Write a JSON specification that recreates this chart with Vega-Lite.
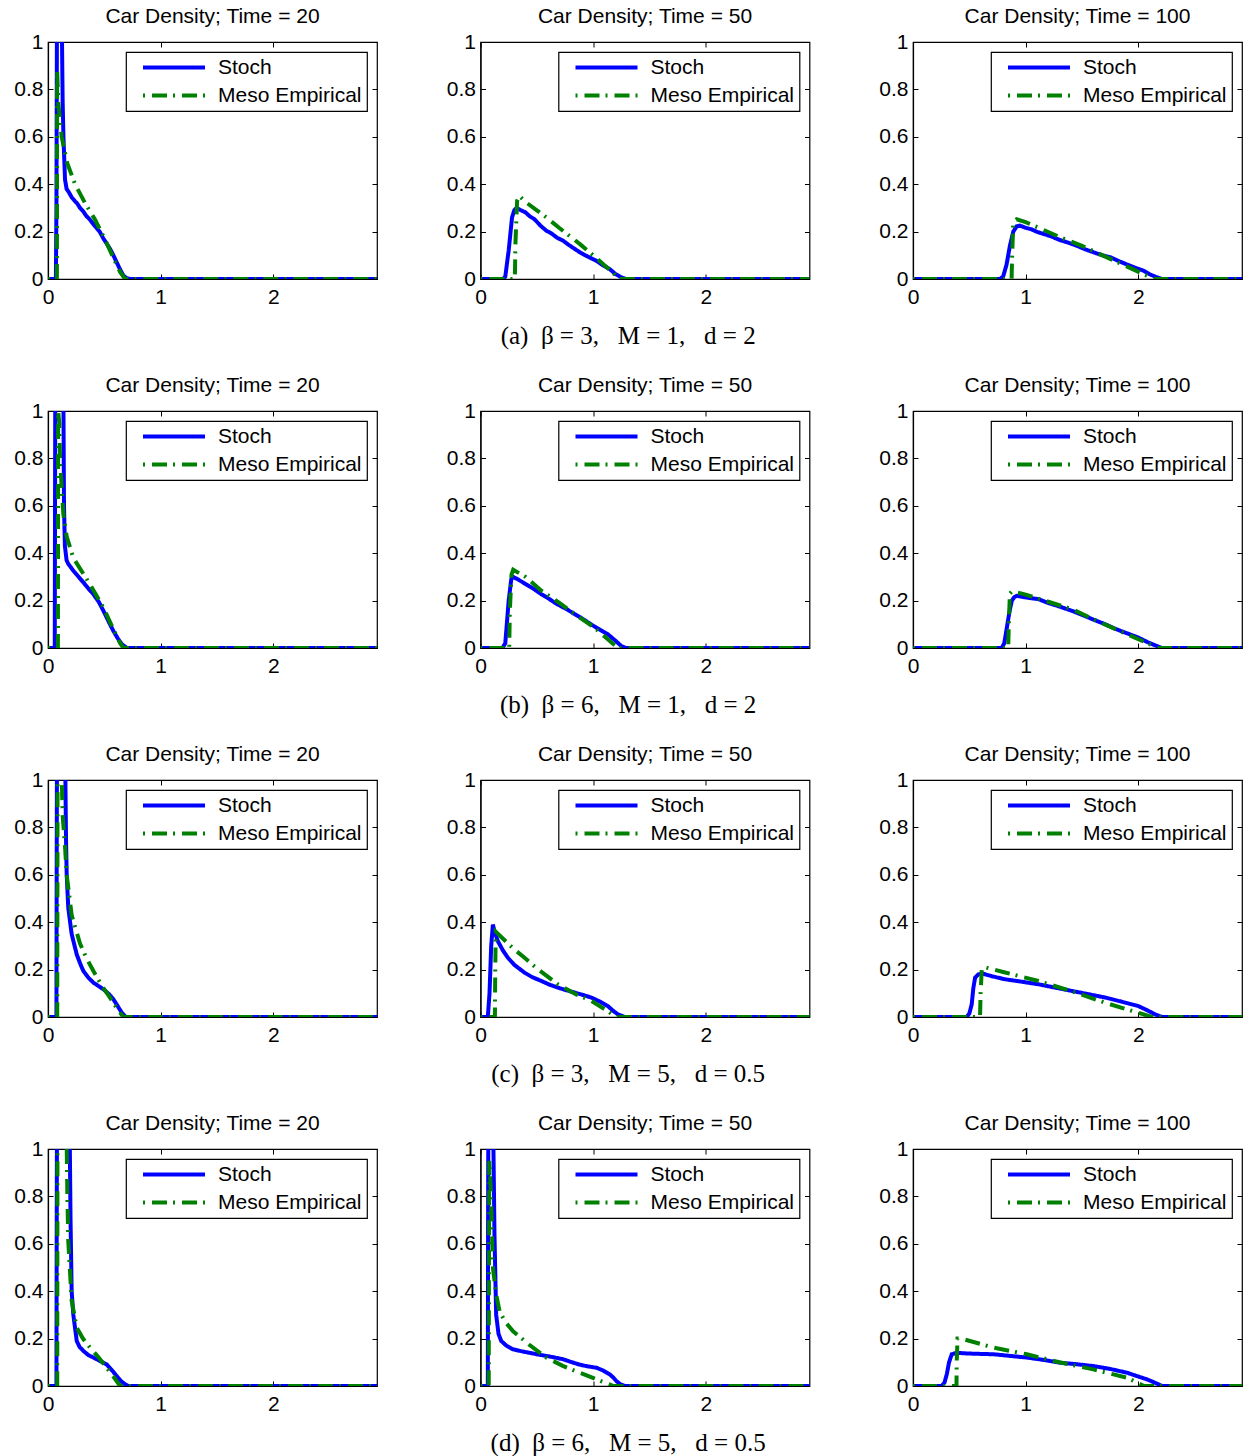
{
  "$schema": "https://vega.github.io/schema/vega-lite/v6.json",
  "padding": {"left": 13, "top": 5, "right": 2, "bottom": 2},
  "background": "white",
  "spacing": 25,
  "resolve": {"legend": {"color": "independent", "strokeDash": "independent"}},
  "config": {
    "font": "Liberation Sans",
    "view": {"stroke": "black", "strokeWidth": 1.2},
    "axis": {"grid": false, "domainColor": "black", "domainWidth": 1.2, "tickColor": "black", "tickSize": -5, "tickWidth": 1, "labelColor": "black", "labelFontSize": 21, "labelFont": "Liberation Sans", "labelFlush": false, "labelOverlap": false},
    "axisX": {"labelPadding": 12},
    "axisY": {"labelPadding": 10},
    "title": {"fontSize": 21, "fontWeight": "normal", "font": "Liberation Sans", "color": "black", "offset": 4, "frame": "group"},
    "legend": {"orient": "top-right", "offset": 10, "padding": 5, "strokeColor": "black", "strokeWidth": 1.2, "fillColor": "white", "labelFontSize": 21, "labelFont": "Liberation Sans", "labelColor": "black", "symbolType": "stroke", "symbolSize": 3844, "symbolStrokeWidth": 4, "symbolOffset": 10, "labelOffset": 11, "rowPadding": 6, "clipHeight": 21, "labelLimit": 400}
  },
  "datasets": {
    "a20": [
      {"s":"Stoch","x":0,"y":0},{"s":"Stoch","x":0.07,"y":0},{"s":"Stoch","x":0.075,"y":0.3},{"s":"Stoch","x":0.08,"y":1.2},{"s":"Stoch","x":0.12,"y":1.2},{"s":"Stoch","x":0.13,"y":0.75},{"s":"Stoch","x":0.137,"y":0.6},{"s":"Stoch","x":0.151,"y":0.42},{"s":"Stoch","x":0.165,"y":0.38},{"s":"Stoch","x":0.18,"y":0.37},{"s":"Stoch","x":0.21,"y":0.345},{"s":"Stoch","x":0.24,"y":0.328},{"s":"Stoch","x":0.26,"y":0.318},{"s":"Stoch","x":0.284,"y":0.3},{"s":"Stoch","x":0.31,"y":0.287},{"s":"Stoch","x":0.34,"y":0.266},{"s":"Stoch","x":0.373,"y":0.25},{"s":"Stoch","x":0.4,"y":0.233},{"s":"Stoch","x":0.43,"y":0.216},{"s":"Stoch","x":0.462,"y":0.197},{"s":"Stoch","x":0.49,"y":0.172},{"s":"Stoch","x":0.52,"y":0.15},{"s":"Stoch","x":0.551,"y":0.127},{"s":"Stoch","x":0.58,"y":0.1},{"s":"Stoch","x":0.61,"y":0.07},{"s":"Stoch","x":0.64,"y":0.04},{"s":"Stoch","x":0.67,"y":0.014},{"s":"Stoch","x":0.7,"y":0.003},{"s":"Stoch","x":0.73,"y":0},{"s":"Stoch","x":2.92,"y":0},
      {"s":"Meso Empirical","x":0,"y":0},{"s":"Meso Empirical","x":0.079,"y":0},{"s":"Meso Empirical","x":0.081,"y":0.88},{"s":"Meso Empirical","x":0.092,"y":0.74},{"s":"Meso Empirical","x":0.121,"y":0.6},{"s":"Meso Empirical","x":0.17,"y":0.49},{"s":"Meso Empirical","x":0.24,"y":0.4},{"s":"Meso Empirical","x":0.329,"y":0.32},{"s":"Meso Empirical","x":0.418,"y":0.25},{"s":"Meso Empirical","x":0.492,"y":0.18},{"s":"Meso Empirical","x":0.58,"y":0.09},{"s":"Meso Empirical","x":0.64,"y":0.03},{"s":"Meso Empirical","x":0.684,"y":0},{"s":"Meso Empirical","x":2.92,"y":0}
    ],
    "a50": [
      {"s":"Stoch","x":0,"y":0},{"s":"Stoch","x":0.2,"y":0},{"s":"Stoch","x":0.22,"y":0.01},{"s":"Stoch","x":0.25,"y":0.12},{"s":"Stoch","x":0.28,"y":0.26},{"s":"Stoch","x":0.3,"y":0.29},{"s":"Stoch","x":0.32,"y":0.3},{"s":"Stoch","x":0.36,"y":0.29},{"s":"Stoch","x":0.4,"y":0.281},{"s":"Stoch","x":0.436,"y":0.265},{"s":"Stoch","x":0.48,"y":0.252},{"s":"Stoch","x":0.53,"y":0.226},{"s":"Stoch","x":0.584,"y":0.204},{"s":"Stoch","x":0.63,"y":0.192},{"s":"Stoch","x":0.68,"y":0.174},{"s":"Stoch","x":0.732,"y":0.162},{"s":"Stoch","x":0.78,"y":0.145},{"s":"Stoch","x":0.83,"y":0.129},{"s":"Stoch","x":0.88,"y":0.113},{"s":"Stoch","x":0.93,"y":0.1},{"s":"Stoch","x":0.98,"y":0.088},{"s":"Stoch","x":1.028,"y":0.077},{"s":"Stoch","x":1.08,"y":0.06},{"s":"Stoch","x":1.147,"y":0.042},{"s":"Stoch","x":1.2,"y":0.02},{"s":"Stoch","x":1.25,"y":0.007},{"s":"Stoch","x":1.29,"y":0},{"s":"Stoch","x":2.92,"y":0},
      {"s":"Meso Empirical","x":0,"y":0},{"s":"Meso Empirical","x":0.305,"y":0},{"s":"Meso Empirical","x":0.31,"y":0.15},{"s":"Meso Empirical","x":0.325,"y":0.33},{"s":"Meso Empirical","x":0.345,"y":0.35},{"s":"Meso Empirical","x":0.4,"y":0.325},{"s":"Meso Empirical","x":0.5,"y":0.29},{"s":"Meso Empirical","x":0.584,"y":0.26},{"s":"Meso Empirical","x":0.7,"y":0.215},{"s":"Meso Empirical","x":0.8,"y":0.178},{"s":"Meso Empirical","x":0.88,"y":0.148},{"s":"Meso Empirical","x":1.0,"y":0.1},{"s":"Meso Empirical","x":1.1,"y":0.058},{"s":"Meso Empirical","x":1.176,"y":0.028},{"s":"Meso Empirical","x":1.22,"y":0},{"s":"Meso Empirical","x":2.92,"y":0}
    ],
    "a100": [
      {"s":"Stoch","x":0,"y":0},{"s":"Stoch","x":0.77,"y":0},{"s":"Stoch","x":0.8,"y":0.01},{"s":"Stoch","x":0.83,"y":0.06},{"s":"Stoch","x":0.86,"y":0.14},{"s":"Stoch","x":0.89,"y":0.2},{"s":"Stoch","x":0.92,"y":0.222},{"s":"Stoch","x":0.95,"y":0.225},{"s":"Stoch","x":1.0,"y":0.216},{"s":"Stoch","x":1.05,"y":0.21},{"s":"Stoch","x":1.1,"y":0.199},{"s":"Stoch","x":1.158,"y":0.19},{"s":"Stoch","x":1.22,"y":0.181},{"s":"Stoch","x":1.3,"y":0.165},{"s":"Stoch","x":1.38,"y":0.153},{"s":"Stoch","x":1.455,"y":0.14},{"s":"Stoch","x":1.53,"y":0.125},{"s":"Stoch","x":1.6,"y":0.113},{"s":"Stoch","x":1.68,"y":0.1},{"s":"Stoch","x":1.75,"y":0.092},{"s":"Stoch","x":1.83,"y":0.075},{"s":"Stoch","x":1.9,"y":0.061},{"s":"Stoch","x":1.98,"y":0.046},{"s":"Stoch","x":2.047,"y":0.035},{"s":"Stoch","x":2.1,"y":0.02},{"s":"Stoch","x":2.166,"y":0.007},{"s":"Stoch","x":2.21,"y":0},{"s":"Stoch","x":2.92,"y":0},
      {"s":"Meso Empirical","x":0,"y":0},{"s":"Meso Empirical","x":0.875,"y":0},{"s":"Meso Empirical","x":0.88,"y":0.1},{"s":"Meso Empirical","x":0.89,"y":0.24},{"s":"Meso Empirical","x":0.92,"y":0.252},{"s":"Meso Empirical","x":1.0,"y":0.24},{"s":"Meso Empirical","x":1.307,"y":0.176},{"s":"Meso Empirical","x":1.5,"y":0.14},{"s":"Meso Empirical","x":1.75,"y":0.085},{"s":"Meso Empirical","x":2.077,"y":0.014},{"s":"Meso Empirical","x":2.14,"y":0},{"s":"Meso Empirical","x":2.92,"y":0}
    ],
    "b20": [
      {"s":"Stoch","x":0,"y":0},{"s":"Stoch","x":0.06,"y":0},{"s":"Stoch","x":0.062,"y":0.5},{"s":"Stoch","x":0.065,"y":1.2},{"s":"Stoch","x":0.135,"y":1.2},{"s":"Stoch","x":0.142,"y":0.6},{"s":"Stoch","x":0.15,"y":0.43},{"s":"Stoch","x":0.165,"y":0.37},{"s":"Stoch","x":0.18,"y":0.355},{"s":"Stoch","x":0.225,"y":0.326},{"s":"Stoch","x":0.27,"y":0.301},{"s":"Stoch","x":0.314,"y":0.277},{"s":"Stoch","x":0.36,"y":0.25},{"s":"Stoch","x":0.403,"y":0.227},{"s":"Stoch","x":0.45,"y":0.195},{"s":"Stoch","x":0.492,"y":0.157},{"s":"Stoch","x":0.54,"y":0.11},{"s":"Stoch","x":0.58,"y":0.072},{"s":"Stoch","x":0.62,"y":0.04},{"s":"Stoch","x":0.655,"y":0.016},{"s":"Stoch","x":0.7,"y":0},{"s":"Stoch","x":2.92,"y":0},
      {"s":"Meso Empirical","x":0,"y":0},{"s":"Meso Empirical","x":0.088,"y":0},{"s":"Meso Empirical","x":0.09,"y":1.0},{"s":"Meso Empirical","x":0.1,"y":0.95},{"s":"Meso Empirical","x":0.107,"y":0.79},{"s":"Meso Empirical","x":0.136,"y":0.566},{"s":"Meso Empirical","x":0.166,"y":0.47},{"s":"Meso Empirical","x":0.225,"y":0.38},{"s":"Meso Empirical","x":0.344,"y":0.29},{"s":"Meso Empirical","x":0.42,"y":0.23},{"s":"Meso Empirical","x":0.492,"y":0.17},{"s":"Meso Empirical","x":0.57,"y":0.09},{"s":"Meso Empirical","x":0.64,"y":0.02},{"s":"Meso Empirical","x":0.67,"y":0},{"s":"Meso Empirical","x":2.92,"y":0}
    ],
    "b50": [
      {"s":"Stoch","x":0,"y":0},{"s":"Stoch","x":0.195,"y":0},{"s":"Stoch","x":0.22,"y":0.02},{"s":"Stoch","x":0.25,"y":0.2},{"s":"Stoch","x":0.273,"y":0.29},{"s":"Stoch","x":0.29,"y":0.3},{"s":"Stoch","x":0.33,"y":0.29},{"s":"Stoch","x":0.4,"y":0.27},{"s":"Stoch","x":0.47,"y":0.25},{"s":"Stoch","x":0.54,"y":0.227},{"s":"Stoch","x":0.6,"y":0.21},{"s":"Stoch","x":0.68,"y":0.185},{"s":"Stoch","x":0.76,"y":0.165},{"s":"Stoch","x":0.836,"y":0.143},{"s":"Stoch","x":0.9,"y":0.125},{"s":"Stoch","x":0.98,"y":0.1},{"s":"Stoch","x":1.05,"y":0.08},{"s":"Stoch","x":1.13,"y":0.058},{"s":"Stoch","x":1.2,"y":0.03},{"s":"Stoch","x":1.25,"y":0.008},{"s":"Stoch","x":1.29,"y":0},{"s":"Stoch","x":2.92,"y":0},
      {"s":"Meso Empirical","x":0,"y":0},{"s":"Meso Empirical","x":0.255,"y":0},{"s":"Meso Empirical","x":0.26,"y":0.15},{"s":"Meso Empirical","x":0.275,"y":0.31},{"s":"Meso Empirical","x":0.29,"y":0.33},{"s":"Meso Empirical","x":0.4,"y":0.3},{"s":"Meso Empirical","x":0.54,"y":0.242},{"s":"Meso Empirical","x":0.7,"y":0.19},{"s":"Meso Empirical","x":0.836,"y":0.143},{"s":"Meso Empirical","x":1.0,"y":0.09},{"s":"Meso Empirical","x":1.13,"y":0.037},{"s":"Meso Empirical","x":1.22,"y":0},{"s":"Meso Empirical","x":2.92,"y":0}
    ],
    "b100": [
      {"s":"Stoch","x":0,"y":0},{"s":"Stoch","x":0.788,"y":0},{"s":"Stoch","x":0.81,"y":0.02},{"s":"Stoch","x":0.833,"y":0.086},{"s":"Stoch","x":0.855,"y":0.15},{"s":"Stoch","x":0.877,"y":0.2},{"s":"Stoch","x":0.9,"y":0.215},{"s":"Stoch","x":0.921,"y":0.22},{"s":"Stoch","x":0.98,"y":0.215},{"s":"Stoch","x":1.05,"y":0.21},{"s":"Stoch","x":1.114,"y":0.206},{"s":"Stoch","x":1.2,"y":0.19},{"s":"Stoch","x":1.3,"y":0.175},{"s":"Stoch","x":1.41,"y":0.157},{"s":"Stoch","x":1.5,"y":0.14},{"s":"Stoch","x":1.6,"y":0.12},{"s":"Stoch","x":1.707,"y":0.1},{"s":"Stoch","x":1.8,"y":0.08},{"s":"Stoch","x":1.9,"y":0.062},{"s":"Stoch","x":2.0,"y":0.044},{"s":"Stoch","x":2.08,"y":0.025},{"s":"Stoch","x":2.15,"y":0.011},{"s":"Stoch","x":2.21,"y":0},{"s":"Stoch","x":2.92,"y":0},
      {"s":"Meso Empirical","x":0,"y":0},{"s":"Meso Empirical","x":0.845,"y":0},{"s":"Meso Empirical","x":0.85,"y":0.1},{"s":"Meso Empirical","x":0.86,"y":0.23},{"s":"Meso Empirical","x":0.88,"y":0.24},{"s":"Meso Empirical","x":1.0,"y":0.225},{"s":"Meso Empirical","x":1.41,"y":0.164},{"s":"Meso Empirical","x":1.7,"y":0.1},{"s":"Meso Empirical","x":2.0,"y":0.037},{"s":"Meso Empirical","x":2.18,"y":0},{"s":"Meso Empirical","x":2.92,"y":0}
    ],
    "c20": [
      {"s":"Stoch","x":0,"y":0},{"s":"Stoch","x":0.075,"y":0},{"s":"Stoch","x":0.077,"y":0.6},{"s":"Stoch","x":0.08,"y":1.2},{"s":"Stoch","x":0.15,"y":1.2},{"s":"Stoch","x":0.16,"y":0.75},{"s":"Stoch","x":0.166,"y":0.6},{"s":"Stoch","x":0.18,"y":0.46},{"s":"Stoch","x":0.21,"y":0.35},{"s":"Stoch","x":0.255,"y":0.264},{"s":"Stoch","x":0.29,"y":0.22},{"s":"Stoch","x":0.314,"y":0.194},{"s":"Stoch","x":0.36,"y":0.165},{"s":"Stoch","x":0.403,"y":0.145},{"s":"Stoch","x":0.45,"y":0.13},{"s":"Stoch","x":0.492,"y":0.117},{"s":"Stoch","x":0.54,"y":0.097},{"s":"Stoch","x":0.58,"y":0.075},{"s":"Stoch","x":0.62,"y":0.045},{"s":"Stoch","x":0.655,"y":0.018},{"s":"Stoch","x":0.69,"y":0},{"s":"Stoch","x":2.92,"y":0},
      {"s":"Meso Empirical","x":0,"y":0},{"s":"Meso Empirical","x":0.082,"y":0},{"s":"Meso Empirical","x":0.085,"y":1.05},{"s":"Meso Empirical","x":0.12,"y":1.05},{"s":"Meso Empirical","x":0.13,"y":0.85},{"s":"Meso Empirical","x":0.151,"y":0.72},{"s":"Meso Empirical","x":0.166,"y":0.6},{"s":"Meso Empirical","x":0.21,"y":0.43},{"s":"Meso Empirical","x":0.284,"y":0.31},{"s":"Meso Empirical","x":0.34,"y":0.25},{"s":"Meso Empirical","x":0.403,"y":0.194},{"s":"Meso Empirical","x":0.48,"y":0.13},{"s":"Meso Empirical","x":0.55,"y":0.082},{"s":"Meso Empirical","x":0.62,"y":0.03},{"s":"Meso Empirical","x":0.67,"y":0},{"s":"Meso Empirical","x":2.92,"y":0}
    ],
    "c50": [
      {"s":"Stoch","x":0,"y":0},{"s":"Stoch","x":0.065,"y":0},{"s":"Stoch","x":0.08,"y":0.1},{"s":"Stoch","x":0.095,"y":0.3},{"s":"Stoch","x":0.11,"y":0.39},{"s":"Stoch","x":0.125,"y":0.36},{"s":"Stoch","x":0.154,"y":0.32},{"s":"Stoch","x":0.2,"y":0.28},{"s":"Stoch","x":0.243,"y":0.25},{"s":"Stoch","x":0.3,"y":0.22},{"s":"Stoch","x":0.391,"y":0.187},{"s":"Stoch","x":0.46,"y":0.168},{"s":"Stoch","x":0.54,"y":0.152},{"s":"Stoch","x":0.61,"y":0.137},{"s":"Stoch","x":0.687,"y":0.124},{"s":"Stoch","x":0.76,"y":0.113},{"s":"Stoch","x":0.836,"y":0.103},{"s":"Stoch","x":0.91,"y":0.093},{"s":"Stoch","x":0.984,"y":0.082},{"s":"Stoch","x":1.06,"y":0.065},{"s":"Stoch","x":1.13,"y":0.046},{"s":"Stoch","x":1.18,"y":0.025},{"s":"Stoch","x":1.22,"y":0.011},{"s":"Stoch","x":1.28,"y":0},{"s":"Stoch","x":2.92,"y":0},
      {"s":"Meso Empirical","x":0,"y":0},{"s":"Meso Empirical","x":0.128,"y":0},{"s":"Meso Empirical","x":0.13,"y":0.15},{"s":"Meso Empirical","x":0.135,"y":0.36},{"s":"Meso Empirical","x":0.2,"y":0.33},{"s":"Meso Empirical","x":0.3,"y":0.285},{"s":"Meso Empirical","x":0.391,"y":0.25},{"s":"Meso Empirical","x":0.5,"y":0.205},{"s":"Meso Empirical","x":0.687,"y":0.138},{"s":"Meso Empirical","x":0.85,"y":0.095},{"s":"Meso Empirical","x":0.984,"y":0.068},{"s":"Meso Empirical","x":1.13,"y":0.025},{"s":"Meso Empirical","x":1.2,"y":0},{"s":"Meso Empirical","x":2.92,"y":0}
    ],
    "c100": [
      {"s":"Stoch","x":0,"y":0},{"s":"Stoch","x":0.477,"y":0},{"s":"Stoch","x":0.5,"y":0.015},{"s":"Stoch","x":0.521,"y":0.053},{"s":"Stoch","x":0.535,"y":0.12},{"s":"Stoch","x":0.551,"y":0.166},{"s":"Stoch","x":0.58,"y":0.18},{"s":"Stoch","x":0.62,"y":0.183},{"s":"Stoch","x":0.7,"y":0.172},{"s":"Stoch","x":0.818,"y":0.159},{"s":"Stoch","x":0.95,"y":0.15},{"s":"Stoch","x":1.114,"y":0.138},{"s":"Stoch","x":1.25,"y":0.125},{"s":"Stoch","x":1.41,"y":0.11},{"s":"Stoch","x":1.55,"y":0.097},{"s":"Stoch","x":1.707,"y":0.082},{"s":"Stoch","x":1.85,"y":0.065},{"s":"Stoch","x":2.0,"y":0.046},{"s":"Stoch","x":2.08,"y":0.028},{"s":"Stoch","x":2.15,"y":0.011},{"s":"Stoch","x":2.21,"y":0},{"s":"Stoch","x":2.92,"y":0},
      {"s":"Meso Empirical","x":0,"y":0},{"s":"Meso Empirical","x":0.595,"y":0},{"s":"Meso Empirical","x":0.6,"y":0.1},{"s":"Meso Empirical","x":0.61,"y":0.2},{"s":"Meso Empirical","x":0.64,"y":0.21},{"s":"Meso Empirical","x":0.8,"y":0.19},{"s":"Meso Empirical","x":1.114,"y":0.152},{"s":"Meso Empirical","x":1.4,"y":0.11},{"s":"Meso Empirical","x":1.707,"y":0.06},{"s":"Meso Empirical","x":1.95,"y":0.025},{"s":"Meso Empirical","x":2.12,"y":0},{"s":"Meso Empirical","x":2.92,"y":0}
    ],
    "d20": [
      {"s":"Stoch","x":0,"y":0},{"s":"Stoch","x":0.075,"y":0},{"s":"Stoch","x":0.077,"y":0.6},{"s":"Stoch","x":0.08,"y":1.2},{"s":"Stoch","x":0.19,"y":1.2},{"s":"Stoch","x":0.2,"y":0.7},{"s":"Stoch","x":0.21,"y":0.4},{"s":"Stoch","x":0.225,"y":0.3},{"s":"Stoch","x":0.255,"y":0.19},{"s":"Stoch","x":0.28,"y":0.165},{"s":"Stoch","x":0.314,"y":0.148},{"s":"Stoch","x":0.36,"y":0.13},{"s":"Stoch","x":0.403,"y":0.12},{"s":"Stoch","x":0.46,"y":0.106},{"s":"Stoch","x":0.521,"y":0.091},{"s":"Stoch","x":0.57,"y":0.065},{"s":"Stoch","x":0.61,"y":0.042},{"s":"Stoch","x":0.65,"y":0.02},{"s":"Stoch","x":0.684,"y":0.007},{"s":"Stoch","x":0.714,"y":0},{"s":"Stoch","x":2.92,"y":0},
      {"s":"Meso Empirical","x":0,"y":0},{"s":"Meso Empirical","x":0.082,"y":0},{"s":"Meso Empirical","x":0.084,"y":1.05},{"s":"Meso Empirical","x":0.165,"y":1.05},{"s":"Meso Empirical","x":0.172,"y":0.8},{"s":"Meso Empirical","x":0.18,"y":0.61},{"s":"Meso Empirical","x":0.21,"y":0.36},{"s":"Meso Empirical","x":0.255,"y":0.246},{"s":"Meso Empirical","x":0.31,"y":0.2},{"s":"Meso Empirical","x":0.373,"y":0.162},{"s":"Meso Empirical","x":0.45,"y":0.12},{"s":"Meso Empirical","x":0.521,"y":0.077},{"s":"Meso Empirical","x":0.58,"y":0.04},{"s":"Meso Empirical","x":0.64,"y":0},{"s":"Meso Empirical","x":2.92,"y":0}
    ],
    "d50": [
      {"s":"Stoch","x":0,"y":0},{"s":"Stoch","x":0.065,"y":0},{"s":"Stoch","x":0.067,"y":0.6},{"s":"Stoch","x":0.07,"y":1.2},{"s":"Stoch","x":0.11,"y":1.2},{"s":"Stoch","x":0.124,"y":0.64},{"s":"Stoch","x":0.139,"y":0.3},{"s":"Stoch","x":0.16,"y":0.22},{"s":"Stoch","x":0.184,"y":0.19},{"s":"Stoch","x":0.23,"y":0.17},{"s":"Stoch","x":0.287,"y":0.155},{"s":"Stoch","x":0.36,"y":0.147},{"s":"Stoch","x":0.435,"y":0.14},{"s":"Stoch","x":0.51,"y":0.133},{"s":"Stoch","x":0.584,"y":0.127},{"s":"Stoch","x":0.66,"y":0.12},{"s":"Stoch","x":0.732,"y":0.113},{"s":"Stoch","x":0.8,"y":0.102},{"s":"Stoch","x":0.88,"y":0.09},{"s":"Stoch","x":0.95,"y":0.083},{"s":"Stoch","x":1.03,"y":0.077},{"s":"Stoch","x":1.09,"y":0.065},{"s":"Stoch","x":1.147,"y":0.049},{"s":"Stoch","x":1.18,"y":0.035},{"s":"Stoch","x":1.206,"y":0.021},{"s":"Stoch","x":1.24,"y":0.008},{"s":"Stoch","x":1.28,"y":0},{"s":"Stoch","x":2.92,"y":0},
      {"s":"Meso Empirical","x":0,"y":0},{"s":"Meso Empirical","x":0.073,"y":0},{"s":"Meso Empirical","x":0.075,"y":0.5},{"s":"Meso Empirical","x":0.078,"y":0.95},{"s":"Meso Empirical","x":0.085,"y":0.9},{"s":"Meso Empirical","x":0.095,"y":0.78},{"s":"Meso Empirical","x":0.11,"y":0.5},{"s":"Meso Empirical","x":0.139,"y":0.387},{"s":"Meso Empirical","x":0.169,"y":0.316},{"s":"Meso Empirical","x":0.22,"y":0.27},{"s":"Meso Empirical","x":0.287,"y":0.232},{"s":"Meso Empirical","x":0.43,"y":0.175},{"s":"Meso Empirical","x":0.584,"y":0.12},{"s":"Meso Empirical","x":0.73,"y":0.085},{"s":"Meso Empirical","x":0.88,"y":0.056},{"s":"Meso Empirical","x":1.03,"y":0.028},{"s":"Meso Empirical","x":1.18,"y":0},{"s":"Meso Empirical","x":2.92,"y":0}
    ],
    "d100": [
      {"s":"Stoch","x":0,"y":0},{"s":"Stoch","x":0.255,"y":0},{"s":"Stoch","x":0.28,"y":0.015},{"s":"Stoch","x":0.3,"y":0.05},{"s":"Stoch","x":0.32,"y":0.1},{"s":"Stoch","x":0.344,"y":0.134},{"s":"Stoch","x":0.388,"y":0.14},{"s":"Stoch","x":0.45,"y":0.138},{"s":"Stoch","x":0.55,"y":0.136},{"s":"Stoch","x":0.714,"y":0.134},{"s":"Stoch","x":0.86,"y":0.127},{"s":"Stoch","x":1.01,"y":0.12},{"s":"Stoch","x":1.16,"y":0.11},{"s":"Stoch","x":1.307,"y":0.098},{"s":"Stoch","x":1.45,"y":0.092},{"s":"Stoch","x":1.603,"y":0.084},{"s":"Stoch","x":1.75,"y":0.072},{"s":"Stoch","x":1.9,"y":0.056},{"s":"Stoch","x":2.0,"y":0.04},{"s":"Stoch","x":2.077,"y":0.028},{"s":"Stoch","x":2.166,"y":0.01},{"s":"Stoch","x":2.21,"y":0},{"s":"Stoch","x":2.92,"y":0},
      {"s":"Meso Empirical","x":0,"y":0},{"s":"Meso Empirical","x":0.386,"y":0},{"s":"Meso Empirical","x":0.388,"y":0.1},{"s":"Meso Empirical","x":0.395,"y":0.2},{"s":"Meso Empirical","x":0.43,"y":0.2},{"s":"Meso Empirical","x":0.714,"y":0.162},{"s":"Meso Empirical","x":1.01,"y":0.134},{"s":"Meso Empirical","x":1.3,"y":0.1},{"s":"Meso Empirical","x":1.6,"y":0.07},{"s":"Meso Empirical","x":1.9,"y":0.035},{"s":"Meso Empirical","x":2.05,"y":0},{"s":"Meso Empirical","x":2.92,"y":0}
    ]
  },
  "vconcat": [
    {
      "title": {"text": "(a)\u00a0\u00a0β = 3,\u00a0\u00a0\u00a0M = 1,\u00a0\u00a0\u00a0d = 2", "orient": "bottom", "anchor": "middle", "frame": "bounds", "font": "Liberation Serif", "fontSize": 25, "offset": 16},
      "spacing": 66.5,
      "resolve": {"legend": {"color": "independent", "strokeDash": "independent"}},
      "hconcat": [
        {"title": "Car Density; Time = 20", "width": 329, "height": 237, "data": {"name": "a20"},
         "layer": [
          {"mark": {"type": "line", "clip": true, "strokeWidth": 4},
           "encoding": {
            "x": {"field": "x", "type": "quantitative", "title": null, "scale": {"domain": [0, 2.92], "nice": false, "zero": false}, "axis": {"orient": "bottom", "values": [0, 1, 2], "format": "~g"}},
            "y": {"field": "y", "type": "quantitative", "title": null, "scale": {"domain": [0, 1], "nice": false}, "axis": {"orient": "left", "values": [0, 0.2, 0.4, 0.6, 0.8, 1], "format": "~g"}},
            "color": {"field": "s", "type": "nominal", "title": null, "scale": {"domain": ["Stoch", "Meso Empirical"], "range": ["#0000ff", "#008000"]}},
            "strokeDash": {"field": "s", "type": "nominal", "title": null, "scale": {"domain": ["Stoch", "Meso Empirical"], "range": [[1, 0], [2, 7, 15, 6]]}}}},
          {"mark": {"type": "line", "clip": true, "strokeOpacity": 0},
           "encoding": {
            "x": {"field": "x", "type": "quantitative", "title": null, "scale": {"domain": [0, 2.92], "nice": false, "zero": false}, "axis": {"orient": "top", "values": [0, 1, 2], "labels": false, "domain": false}},
            "y": {"field": "y", "type": "quantitative", "title": null, "scale": {"domain": [0, 1], "nice": false}, "axis": {"orient": "right", "values": [0, 0.2, 0.4, 0.6, 0.8, 1], "labels": false, "domain": false}}}}
         ],
         "resolve": {"axis": {"x": "independent", "y": "independent"}}},
        {"title": "Car Density; Time = 50", "width": 329, "height": 237, "data": {"name": "a50"},
         "layer": [
          {"mark": {"type": "line", "clip": true, "strokeWidth": 4},
           "encoding": {
            "x": {"field": "x", "type": "quantitative", "title": null, "scale": {"domain": [0, 2.92], "nice": false, "zero": false}, "axis": {"orient": "bottom", "values": [0, 1, 2], "format": "~g"}},
            "y": {"field": "y", "type": "quantitative", "title": null, "scale": {"domain": [0, 1], "nice": false}, "axis": {"orient": "left", "values": [0, 0.2, 0.4, 0.6, 0.8, 1], "format": "~g"}},
            "color": {"field": "s", "type": "nominal", "title": null, "scale": {"domain": ["Stoch", "Meso Empirical"], "range": ["#0000ff", "#008000"]}},
            "strokeDash": {"field": "s", "type": "nominal", "title": null, "scale": {"domain": ["Stoch", "Meso Empirical"], "range": [[1, 0], [2, 7, 15, 6]]}}}},
          {"mark": {"type": "line", "clip": true, "strokeOpacity": 0},
           "encoding": {
            "x": {"field": "x", "type": "quantitative", "title": null, "scale": {"domain": [0, 2.92], "nice": false, "zero": false}, "axis": {"orient": "top", "values": [0, 1, 2], "labels": false, "domain": false}},
            "y": {"field": "y", "type": "quantitative", "title": null, "scale": {"domain": [0, 1], "nice": false}, "axis": {"orient": "right", "values": [0, 0.2, 0.4, 0.6, 0.8, 1], "labels": false, "domain": false}}}}
         ],
         "resolve": {"axis": {"x": "independent", "y": "independent"}}},
        {"title": "Car Density; Time = 100", "width": 329, "height": 237, "data": {"name": "a100"},
         "layer": [
          {"mark": {"type": "line", "clip": true, "strokeWidth": 4},
           "encoding": {
            "x": {"field": "x", "type": "quantitative", "title": null, "scale": {"domain": [0, 2.92], "nice": false, "zero": false}, "axis": {"orient": "bottom", "values": [0, 1, 2], "format": "~g"}},
            "y": {"field": "y", "type": "quantitative", "title": null, "scale": {"domain": [0, 1], "nice": false}, "axis": {"orient": "left", "values": [0, 0.2, 0.4, 0.6, 0.8, 1], "format": "~g"}},
            "color": {"field": "s", "type": "nominal", "title": null, "scale": {"domain": ["Stoch", "Meso Empirical"], "range": ["#0000ff", "#008000"]}},
            "strokeDash": {"field": "s", "type": "nominal", "title": null, "scale": {"domain": ["Stoch", "Meso Empirical"], "range": [[1, 0], [2, 7, 15, 6]]}}}},
          {"mark": {"type": "line", "clip": true, "strokeOpacity": 0},
           "encoding": {
            "x": {"field": "x", "type": "quantitative", "title": null, "scale": {"domain": [0, 2.92], "nice": false, "zero": false}, "axis": {"orient": "top", "values": [0, 1, 2], "labels": false, "domain": false}},
            "y": {"field": "y", "type": "quantitative", "title": null, "scale": {"domain": [0, 1], "nice": false}, "axis": {"orient": "right", "values": [0, 0.2, 0.4, 0.6, 0.8, 1], "labels": false, "domain": false}}}}
         ],
         "resolve": {"axis": {"x": "independent", "y": "independent"}}}
      ]
    },
    {
      "title": {"text": "(b)\u00a0\u00a0β = 6,\u00a0\u00a0\u00a0M = 1,\u00a0\u00a0\u00a0d = 2", "orient": "bottom", "anchor": "middle", "frame": "bounds", "font": "Liberation Serif", "fontSize": 25, "offset": 16},
      "spacing": 66.5,
      "resolve": {"legend": {"color": "independent", "strokeDash": "independent"}},
      "hconcat": [
        {"title": "Car Density; Time = 20", "width": 329, "height": 237, "data": {"name": "b20"},
         "layer": [
          {"mark": {"type": "line", "clip": true, "strokeWidth": 4},
           "encoding": {
            "x": {"field": "x", "type": "quantitative", "title": null, "scale": {"domain": [0, 2.92], "nice": false, "zero": false}, "axis": {"orient": "bottom", "values": [0, 1, 2], "format": "~g"}},
            "y": {"field": "y", "type": "quantitative", "title": null, "scale": {"domain": [0, 1], "nice": false}, "axis": {"orient": "left", "values": [0, 0.2, 0.4, 0.6, 0.8, 1], "format": "~g"}},
            "color": {"field": "s", "type": "nominal", "title": null, "scale": {"domain": ["Stoch", "Meso Empirical"], "range": ["#0000ff", "#008000"]}},
            "strokeDash": {"field": "s", "type": "nominal", "title": null, "scale": {"domain": ["Stoch", "Meso Empirical"], "range": [[1, 0], [2, 7, 15, 6]]}}}},
          {"mark": {"type": "line", "clip": true, "strokeOpacity": 0},
           "encoding": {
            "x": {"field": "x", "type": "quantitative", "title": null, "scale": {"domain": [0, 2.92], "nice": false, "zero": false}, "axis": {"orient": "top", "values": [0, 1, 2], "labels": false, "domain": false}},
            "y": {"field": "y", "type": "quantitative", "title": null, "scale": {"domain": [0, 1], "nice": false}, "axis": {"orient": "right", "values": [0, 0.2, 0.4, 0.6, 0.8, 1], "labels": false, "domain": false}}}}
         ],
         "resolve": {"axis": {"x": "independent", "y": "independent"}}},
        {"title": "Car Density; Time = 50", "width": 329, "height": 237, "data": {"name": "b50"},
         "layer": [
          {"mark": {"type": "line", "clip": true, "strokeWidth": 4},
           "encoding": {
            "x": {"field": "x", "type": "quantitative", "title": null, "scale": {"domain": [0, 2.92], "nice": false, "zero": false}, "axis": {"orient": "bottom", "values": [0, 1, 2], "format": "~g"}},
            "y": {"field": "y", "type": "quantitative", "title": null, "scale": {"domain": [0, 1], "nice": false}, "axis": {"orient": "left", "values": [0, 0.2, 0.4, 0.6, 0.8, 1], "format": "~g"}},
            "color": {"field": "s", "type": "nominal", "title": null, "scale": {"domain": ["Stoch", "Meso Empirical"], "range": ["#0000ff", "#008000"]}},
            "strokeDash": {"field": "s", "type": "nominal", "title": null, "scale": {"domain": ["Stoch", "Meso Empirical"], "range": [[1, 0], [2, 7, 15, 6]]}}}},
          {"mark": {"type": "line", "clip": true, "strokeOpacity": 0},
           "encoding": {
            "x": {"field": "x", "type": "quantitative", "title": null, "scale": {"domain": [0, 2.92], "nice": false, "zero": false}, "axis": {"orient": "top", "values": [0, 1, 2], "labels": false, "domain": false}},
            "y": {"field": "y", "type": "quantitative", "title": null, "scale": {"domain": [0, 1], "nice": false}, "axis": {"orient": "right", "values": [0, 0.2, 0.4, 0.6, 0.8, 1], "labels": false, "domain": false}}}}
         ],
         "resolve": {"axis": {"x": "independent", "y": "independent"}}},
        {"title": "Car Density; Time = 100", "width": 329, "height": 237, "data": {"name": "b100"},
         "layer": [
          {"mark": {"type": "line", "clip": true, "strokeWidth": 4},
           "encoding": {
            "x": {"field": "x", "type": "quantitative", "title": null, "scale": {"domain": [0, 2.92], "nice": false, "zero": false}, "axis": {"orient": "bottom", "values": [0, 1, 2], "format": "~g"}},
            "y": {"field": "y", "type": "quantitative", "title": null, "scale": {"domain": [0, 1], "nice": false}, "axis": {"orient": "left", "values": [0, 0.2, 0.4, 0.6, 0.8, 1], "format": "~g"}},
            "color": {"field": "s", "type": "nominal", "title": null, "scale": {"domain": ["Stoch", "Meso Empirical"], "range": ["#0000ff", "#008000"]}},
            "strokeDash": {"field": "s", "type": "nominal", "title": null, "scale": {"domain": ["Stoch", "Meso Empirical"], "range": [[1, 0], [2, 7, 15, 6]]}}}},
          {"mark": {"type": "line", "clip": true, "strokeOpacity": 0},
           "encoding": {
            "x": {"field": "x", "type": "quantitative", "title": null, "scale": {"domain": [0, 2.92], "nice": false, "zero": false}, "axis": {"orient": "top", "values": [0, 1, 2], "labels": false, "domain": false}},
            "y": {"field": "y", "type": "quantitative", "title": null, "scale": {"domain": [0, 1], "nice": false}, "axis": {"orient": "right", "values": [0, 0.2, 0.4, 0.6, 0.8, 1], "labels": false, "domain": false}}}}
         ],
         "resolve": {"axis": {"x": "independent", "y": "independent"}}}
      ]
    },
    {
      "title": {"text": "(c)\u00a0\u00a0β = 3,\u00a0\u00a0\u00a0M = 5,\u00a0\u00a0\u00a0d = 0.5", "orient": "bottom", "anchor": "middle", "frame": "bounds", "font": "Liberation Serif", "fontSize": 25, "offset": 16},
      "spacing": 66.5,
      "resolve": {"legend": {"color": "independent", "strokeDash": "independent"}},
      "hconcat": [
        {"title": "Car Density; Time = 20", "width": 329, "height": 237, "data": {"name": "c20"},
         "layer": [
          {"mark": {"type": "line", "clip": true, "strokeWidth": 4},
           "encoding": {
            "x": {"field": "x", "type": "quantitative", "title": null, "scale": {"domain": [0, 2.92], "nice": false, "zero": false}, "axis": {"orient": "bottom", "values": [0, 1, 2], "format": "~g"}},
            "y": {"field": "y", "type": "quantitative", "title": null, "scale": {"domain": [0, 1], "nice": false}, "axis": {"orient": "left", "values": [0, 0.2, 0.4, 0.6, 0.8, 1], "format": "~g"}},
            "color": {"field": "s", "type": "nominal", "title": null, "scale": {"domain": ["Stoch", "Meso Empirical"], "range": ["#0000ff", "#008000"]}},
            "strokeDash": {"field": "s", "type": "nominal", "title": null, "scale": {"domain": ["Stoch", "Meso Empirical"], "range": [[1, 0], [2, 7, 15, 6]]}}}},
          {"mark": {"type": "line", "clip": true, "strokeOpacity": 0},
           "encoding": {
            "x": {"field": "x", "type": "quantitative", "title": null, "scale": {"domain": [0, 2.92], "nice": false, "zero": false}, "axis": {"orient": "top", "values": [0, 1, 2], "labels": false, "domain": false}},
            "y": {"field": "y", "type": "quantitative", "title": null, "scale": {"domain": [0, 1], "nice": false}, "axis": {"orient": "right", "values": [0, 0.2, 0.4, 0.6, 0.8, 1], "labels": false, "domain": false}}}}
         ],
         "resolve": {"axis": {"x": "independent", "y": "independent"}}},
        {"title": "Car Density; Time = 50", "width": 329, "height": 237, "data": {"name": "c50"},
         "layer": [
          {"mark": {"type": "line", "clip": true, "strokeWidth": 4},
           "encoding": {
            "x": {"field": "x", "type": "quantitative", "title": null, "scale": {"domain": [0, 2.92], "nice": false, "zero": false}, "axis": {"orient": "bottom", "values": [0, 1, 2], "format": "~g"}},
            "y": {"field": "y", "type": "quantitative", "title": null, "scale": {"domain": [0, 1], "nice": false}, "axis": {"orient": "left", "values": [0, 0.2, 0.4, 0.6, 0.8, 1], "format": "~g"}},
            "color": {"field": "s", "type": "nominal", "title": null, "scale": {"domain": ["Stoch", "Meso Empirical"], "range": ["#0000ff", "#008000"]}},
            "strokeDash": {"field": "s", "type": "nominal", "title": null, "scale": {"domain": ["Stoch", "Meso Empirical"], "range": [[1, 0], [2, 7, 15, 6]]}}}},
          {"mark": {"type": "line", "clip": true, "strokeOpacity": 0},
           "encoding": {
            "x": {"field": "x", "type": "quantitative", "title": null, "scale": {"domain": [0, 2.92], "nice": false, "zero": false}, "axis": {"orient": "top", "values": [0, 1, 2], "labels": false, "domain": false}},
            "y": {"field": "y", "type": "quantitative", "title": null, "scale": {"domain": [0, 1], "nice": false}, "axis": {"orient": "right", "values": [0, 0.2, 0.4, 0.6, 0.8, 1], "labels": false, "domain": false}}}}
         ],
         "resolve": {"axis": {"x": "independent", "y": "independent"}}},
        {"title": "Car Density; Time = 100", "width": 329, "height": 237, "data": {"name": "c100"},
         "layer": [
          {"mark": {"type": "line", "clip": true, "strokeWidth": 4},
           "encoding": {
            "x": {"field": "x", "type": "quantitative", "title": null, "scale": {"domain": [0, 2.92], "nice": false, "zero": false}, "axis": {"orient": "bottom", "values": [0, 1, 2], "format": "~g"}},
            "y": {"field": "y", "type": "quantitative", "title": null, "scale": {"domain": [0, 1], "nice": false}, "axis": {"orient": "left", "values": [0, 0.2, 0.4, 0.6, 0.8, 1], "format": "~g"}},
            "color": {"field": "s", "type": "nominal", "title": null, "scale": {"domain": ["Stoch", "Meso Empirical"], "range": ["#0000ff", "#008000"]}},
            "strokeDash": {"field": "s", "type": "nominal", "title": null, "scale": {"domain": ["Stoch", "Meso Empirical"], "range": [[1, 0], [2, 7, 15, 6]]}}}},
          {"mark": {"type": "line", "clip": true, "strokeOpacity": 0},
           "encoding": {
            "x": {"field": "x", "type": "quantitative", "title": null, "scale": {"domain": [0, 2.92], "nice": false, "zero": false}, "axis": {"orient": "top", "values": [0, 1, 2], "labels": false, "domain": false}},
            "y": {"field": "y", "type": "quantitative", "title": null, "scale": {"domain": [0, 1], "nice": false}, "axis": {"orient": "right", "values": [0, 0.2, 0.4, 0.6, 0.8, 1], "labels": false, "domain": false}}}}
         ],
         "resolve": {"axis": {"x": "independent", "y": "independent"}}}
      ]
    },
    {
      "title": {"text": "(d)\u00a0\u00a0β = 6,\u00a0\u00a0\u00a0M = 5,\u00a0\u00a0\u00a0d = 0.5", "orient": "bottom", "anchor": "middle", "frame": "bounds", "font": "Liberation Serif", "fontSize": 25, "offset": 16},
      "spacing": 66.5,
      "resolve": {"legend": {"color": "independent", "strokeDash": "independent"}},
      "hconcat": [
        {"title": "Car Density; Time = 20", "width": 329, "height": 237, "data": {"name": "d20"},
         "layer": [
          {"mark": {"type": "line", "clip": true, "strokeWidth": 4},
           "encoding": {
            "x": {"field": "x", "type": "quantitative", "title": null, "scale": {"domain": [0, 2.92], "nice": false, "zero": false}, "axis": {"orient": "bottom", "values": [0, 1, 2], "format": "~g"}},
            "y": {"field": "y", "type": "quantitative", "title": null, "scale": {"domain": [0, 1], "nice": false}, "axis": {"orient": "left", "values": [0, 0.2, 0.4, 0.6, 0.8, 1], "format": "~g"}},
            "color": {"field": "s", "type": "nominal", "title": null, "scale": {"domain": ["Stoch", "Meso Empirical"], "range": ["#0000ff", "#008000"]}},
            "strokeDash": {"field": "s", "type": "nominal", "title": null, "scale": {"domain": ["Stoch", "Meso Empirical"], "range": [[1, 0], [2, 7, 15, 6]]}}}},
          {"mark": {"type": "line", "clip": true, "strokeOpacity": 0},
           "encoding": {
            "x": {"field": "x", "type": "quantitative", "title": null, "scale": {"domain": [0, 2.92], "nice": false, "zero": false}, "axis": {"orient": "top", "values": [0, 1, 2], "labels": false, "domain": false}},
            "y": {"field": "y", "type": "quantitative", "title": null, "scale": {"domain": [0, 1], "nice": false}, "axis": {"orient": "right", "values": [0, 0.2, 0.4, 0.6, 0.8, 1], "labels": false, "domain": false}}}}
         ],
         "resolve": {"axis": {"x": "independent", "y": "independent"}}},
        {"title": "Car Density; Time = 50", "width": 329, "height": 237, "data": {"name": "d50"},
         "layer": [
          {"mark": {"type": "line", "clip": true, "strokeWidth": 4},
           "encoding": {
            "x": {"field": "x", "type": "quantitative", "title": null, "scale": {"domain": [0, 2.92], "nice": false, "zero": false}, "axis": {"orient": "bottom", "values": [0, 1, 2], "format": "~g"}},
            "y": {"field": "y", "type": "quantitative", "title": null, "scale": {"domain": [0, 1], "nice": false}, "axis": {"orient": "left", "values": [0, 0.2, 0.4, 0.6, 0.8, 1], "format": "~g"}},
            "color": {"field": "s", "type": "nominal", "title": null, "scale": {"domain": ["Stoch", "Meso Empirical"], "range": ["#0000ff", "#008000"]}},
            "strokeDash": {"field": "s", "type": "nominal", "title": null, "scale": {"domain": ["Stoch", "Meso Empirical"], "range": [[1, 0], [2, 7, 15, 6]]}}}},
          {"mark": {"type": "line", "clip": true, "strokeOpacity": 0},
           "encoding": {
            "x": {"field": "x", "type": "quantitative", "title": null, "scale": {"domain": [0, 2.92], "nice": false, "zero": false}, "axis": {"orient": "top", "values": [0, 1, 2], "labels": false, "domain": false}},
            "y": {"field": "y", "type": "quantitative", "title": null, "scale": {"domain": [0, 1], "nice": false}, "axis": {"orient": "right", "values": [0, 0.2, 0.4, 0.6, 0.8, 1], "labels": false, "domain": false}}}}
         ],
         "resolve": {"axis": {"x": "independent", "y": "independent"}}},
        {"title": "Car Density; Time = 100", "width": 329, "height": 237, "data": {"name": "d100"},
         "layer": [
          {"mark": {"type": "line", "clip": true, "strokeWidth": 4},
           "encoding": {
            "x": {"field": "x", "type": "quantitative", "title": null, "scale": {"domain": [0, 2.92], "nice": false, "zero": false}, "axis": {"orient": "bottom", "values": [0, 1, 2], "format": "~g"}},
            "y": {"field": "y", "type": "quantitative", "title": null, "scale": {"domain": [0, 1], "nice": false}, "axis": {"orient": "left", "values": [0, 0.2, 0.4, 0.6, 0.8, 1], "format": "~g"}},
            "color": {"field": "s", "type": "nominal", "title": null, "scale": {"domain": ["Stoch", "Meso Empirical"], "range": ["#0000ff", "#008000"]}},
            "strokeDash": {"field": "s", "type": "nominal", "title": null, "scale": {"domain": ["Stoch", "Meso Empirical"], "range": [[1, 0], [2, 7, 15, 6]]}}}},
          {"mark": {"type": "line", "clip": true, "strokeOpacity": 0},
           "encoding": {
            "x": {"field": "x", "type": "quantitative", "title": null, "scale": {"domain": [0, 2.92], "nice": false, "zero": false}, "axis": {"orient": "top", "values": [0, 1, 2], "labels": false, "domain": false}},
            "y": {"field": "y", "type": "quantitative", "title": null, "scale": {"domain": [0, 1], "nice": false}, "axis": {"orient": "right", "values": [0, 0.2, 0.4, 0.6, 0.8, 1], "labels": false, "domain": false}}}}
         ],
         "resolve": {"axis": {"x": "independent", "y": "independent"}}}
      ]
    }
  ]
}
